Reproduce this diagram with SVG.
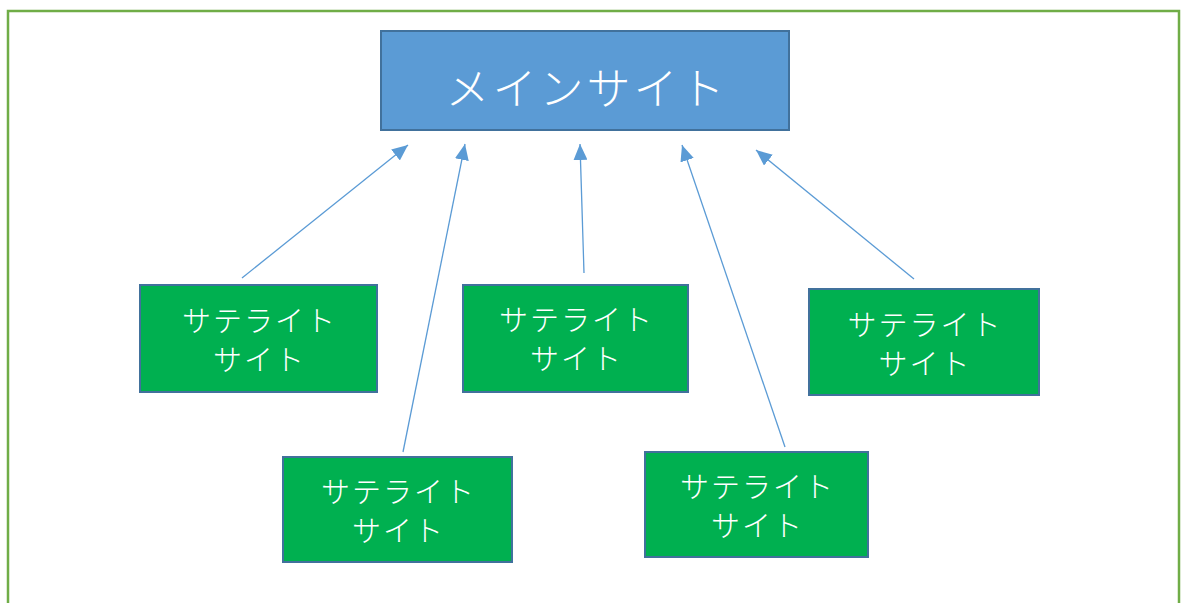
<svg xmlns="http://www.w3.org/2000/svg" width="1181" height="603" viewBox="0 0 1181 603">
<style>
.frame{fill:none;stroke:#70AD47;stroke-width:2.5}
.main{fill:#5B9BD5;stroke:#41719C;stroke-width:2}
.sat{fill:#00B050;stroke:#41719C;stroke-width:2}
.t{fill:#FFFFFF;font-family:"Noto Sans CJK JP","Noto Sans",sans-serif;font-weight:300;text-anchor:middle;dominant-baseline:central}
.tm{font-size:44px;letter-spacing:3px}
.ts{font-size:29px;letter-spacing:2px}
.c{stroke:#5B9BD5;stroke-width:1.3;fill:none;marker-end:url(#ah)}
</style>
<defs>
<marker id="ah" markerUnits="userSpaceOnUse" markerWidth="18" markerHeight="14" refX="16" refY="7" orient="auto">
<path d="M0,0 L16,7 L0,14 Z" fill="#5B9BD5"/>
</marker>
</defs>
<rect class="frame" x="8" y="11" width="1171" height="620"/>
<g id="main-site">
<rect class="main" x="381" y="31" width="408" height="99"/>
<text class="t tm" x="586.5" y="86">メインサイト</text>
</g>
<g id="sat1">
<rect class="sat" x="140" y="285" width="237" height="107"/>
<text class="t ts" x="259.5" y="319">サテライト</text>
<text class="t ts" x="259.5" y="358">サイト</text>
</g>
<g id="sat2">
<rect class="sat" x="283" y="457" width="229" height="105"/>
<text class="t ts" x="398.5" y="490">サテライト</text>
<text class="t ts" x="398.5" y="529">サイト</text>
</g>
<g id="sat3">
<rect class="sat" x="463" y="285" width="225" height="107"/>
<text class="t ts" x="576.5" y="318">サテライト</text>
<text class="t ts" x="576.5" y="357">サイト</text>
</g>
<g id="sat4">
<rect class="sat" x="645" y="452" width="223" height="105"/>
<text class="t ts" x="757.5" y="485">サテライト</text>
<text class="t ts" x="757.5" y="524">サイト</text>
</g>
<g id="sat5">
<rect class="sat" x="809" y="289" width="230" height="106"/>
<text class="t ts" x="925" y="323">サテライト</text>
<text class="t ts" x="925" y="362">サイト</text>
</g>
<g id="connectors">
<line class="c" x1="242" y1="278" x2="408" y2="145"/>
<line class="c" x1="403" y1="452" x2="465" y2="144"/>
<line class="c" x1="584" y1="273" x2="580" y2="144"/>
<line class="c" x1="785" y1="447" x2="682" y2="145"/>
<line class="c" x1="914" y1="279" x2="756" y2="150"/>
</g>
</svg>
